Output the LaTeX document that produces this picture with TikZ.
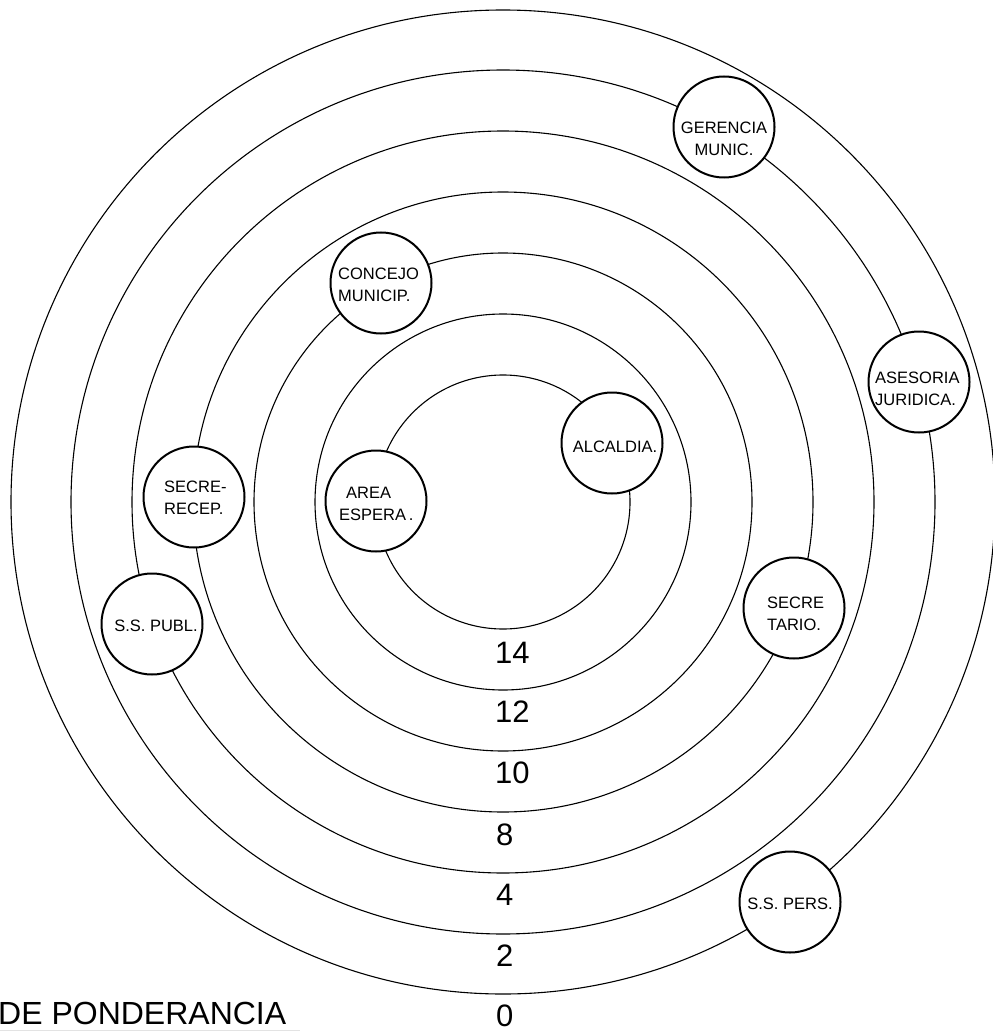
\documentclass[tikz,border=0pt]{standalone}
\usepackage{fontspec}
\setmainfont{Liberation Sans}
\begin{document}
\begin{tikzpicture}[x=1pt,y=-1pt,
  ring/.style={line width=1.1pt},
  room/.style={circle,draw,line width=2pt,fill=white,minimum size=101pt,inner sep=0pt},
  roomtext/.style={inner sep=0pt,font=\fontsize{16.5}{22}\selectfont},
  level/.style={inner sep=0pt,anchor=base west,font=\fontsize{31}{36}\selectfont}]
\useasboundingbox (0,0) rectangle (992,1032);
\coordinate (c) at (503,502);
\foreach \r in {127,188,249,310,371,432,492}
  \draw[ring] (c) circle[radius=\r pt];
% rooms
\node[room] (ger) at (724,127) {};
\node[roomtext,align=center] (gert) at (724,139) {GERENCIA\\MUNIC.};
\node[room] (con) at (381,283) {};
\node[roomtext,align=left,anchor=west] (cont) at (338,285) {CONCEJO\\MUNICIP.};
\node[room] (sec) at (194,497) {};
\node[roomtext,align=left,anchor=west] (sect) at (164,498) {SECRE-\\RECEP.};
\node[room] (pub) at (152,624) {};
\node[roomtext] (pubt) at (156,626) {S.S. PUBL.};
\node[room] (are) at (376,501) {};
\node[roomtext,align=left,anchor=west] (aret) at (339,503.5) {\hspace*{7pt}AREA\\ESPERA\,.};
\node[room] (alc) at (612,443) {};
\node[roomtext] (alct) at (615,447) {ALCALDIA.};
\node[room] (ase) at (919,382) {};
\node[roomtext,align=left,anchor=west] (aset) at (875,388.5) {ASESORIA\\JURIDICA.};
\node[room] (sta) at (794,608) {};
\node[roomtext,align=left,anchor=west] (stat) at (767,613.5) {SECRE\\TARIO.};
\node[room] (per) at (790,902) {};
\node[roomtext] (pert) at (790,904) {S.S. PERS.};
% levels
\node[level] (l14) at (495,663) {14};
\node[level] (l12) at (495,722) {12};
\node[level] (l10) at (495,783) {10};
\node[level] (l8) at (496,845) {8};
\node[level] (l4) at (496,905) {4};
\node[level] (l2) at (496,966) {2};
\node[level] (l0) at (496,1026) {0};
% title
\node[level,font=\fontsize{32}{38}\selectfont] (title) at (-2,1024) {DE PONDERANCIA};
\coordinate (ula) at (0,1030);
\coordinate (ulb) at (300,1030);
\draw[gray!22,line width=1pt] (ula) -- (ulb);
\end{tikzpicture}
\end{document}
